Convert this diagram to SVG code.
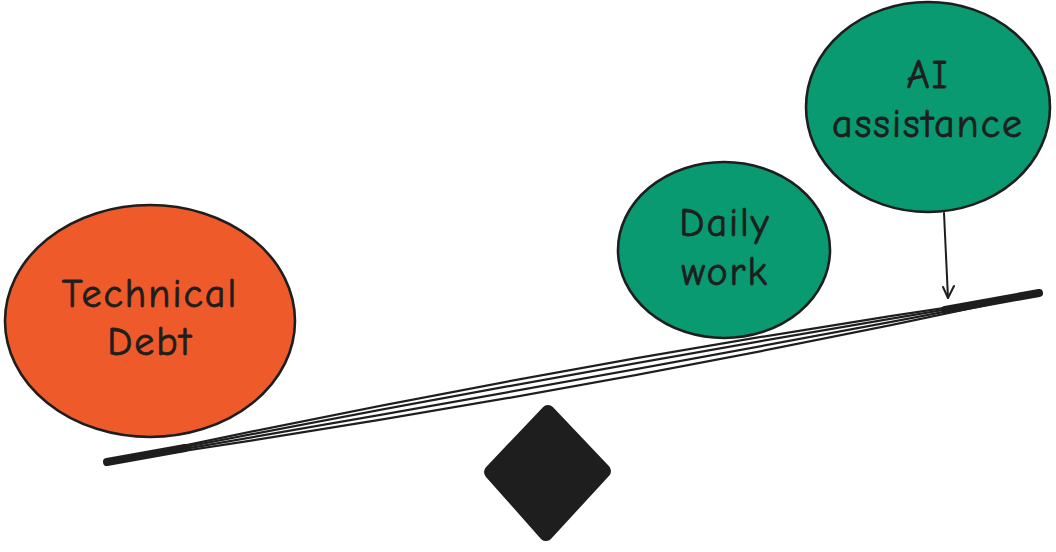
<svg xmlns="http://www.w3.org/2000/svg" width="1056" height="552" viewBox="0 0 1056 552">
<style>
.lbl{font-family:"Comic Neue","Open Sans","Liberation Sans",sans-serif;font-size:40px;letter-spacing:2px;fill:#1e1e1e;stroke:#1e1e1e;stroke-width:0.8;text-anchor:middle}
.edge{stroke:#1e1e1e;stroke-width:2.6}
.beam{stroke:#1e1e1e;fill:none;stroke-linecap:round}
</style>
<rect width="1056" height="552" fill="#ffffff"/>
<g id="technical-debt">
<ellipse cx="150" cy="321" rx="145" ry="116" fill="#ef5a2a" class="edge"/>
<text class="lbl" x="150" y="307">Technical</text>
<text class="lbl" x="150" y="355">Debt</text>
</g>
<g id="daily-work">
<ellipse cx="724" cy="250" rx="106" ry="88" fill="#0a9a72" class="edge"/>
<text class="lbl" x="725" y="236">Daily</text>
<text class="lbl" x="725" y="285">work</text>
</g>
<g id="ai-assistance">
<ellipse cx="928" cy="107" rx="122" ry="105" fill="#0a9a72" class="edge"/>
<text class="lbl" x="928" y="88">AI</text>
<text class="lbl" x="928" y="137">assistance</text>
</g>
<g id="fulcrum">
<polygon points="548,412 604,471 546,534 491,472" fill="#1e1e1e" stroke="#1e1e1e" stroke-width="14" stroke-linejoin="round"/>
</g>
<g id="connectors">
<path class="beam" d="M107 462 L185 448" stroke-width="8"/>
<path class="beam" d="M945 310 L1039 293" stroke-width="8"/>
<path class="beam" d="M108 462 Q573 361 1038 294" stroke-width="2.2"/>
<path class="beam" d="M108 462 Q573 371 1038 294" stroke-width="2.2"/>
<path class="beam" d="M108 462 Q573 383 1038 294" stroke-width="2.2"/>
<path class="beam" d="M108 462 Q573 395 1038 294" stroke-width="2.2"/>
<path d="M944 213 L948 298" stroke="#1e1e1e" stroke-width="2" fill="none" stroke-linecap="round"/>
<path d="M943 287 L948 298 L954 286" stroke="#1e1e1e" stroke-width="2" fill="none" stroke-linecap="round" stroke-linejoin="round"/>
</g>
</svg>
